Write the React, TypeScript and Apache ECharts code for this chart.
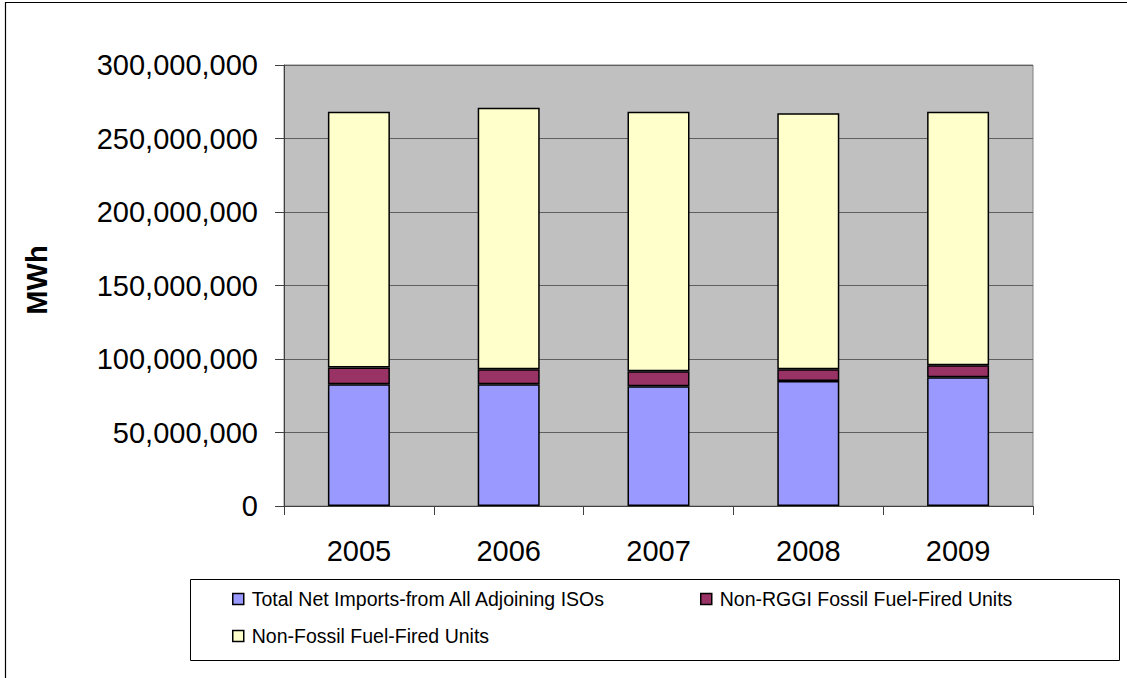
import React, { useEffect, useRef } from "react";
import * as echarts from "echarts";

// Annual electricity supply components, MWh
const years = ["2005", "2006", "2007", "2008", "2009"];
const netImports = [82800000, 82800000, 81500000, 85100000, 87600000];
const nonRggiFossil = [11400000, 10300000, 10200000, 8000000, 8200000];
const nonFossil = [174000000, 177800000, 176500000, 174000000, 172400000];

const seriesNames = [
  "Total Net Imports-from All Adjoining ISOs",
  "Non-RGGI Fossil Fuel-Fired Units",
  "Non-Fossil Fuel-Fired Units",
];
const seriesColors = ["#9999FF", "#993366", "#FFFFCC"];

const FONT = "'Liberation Sans', Arial, sans-serif";

const withCommas = (v: number) =>
  String(Math.round(v)).replace(/\B(?=(\d{3})+(?!\d))/g, ",");

export default function App() {
  const ref = useRef<HTMLDivElement>(null);

  useEffect(() => {
    if (!ref.current) return;
    const chart = echarts.init(ref.current, null, { renderer: "svg" });

    const barSeries = [netImports, nonRggiFossil, nonFossil].map((data, i) => ({
      name: seriesNames[i],
      type: "bar" as const,
      stack: "total",
      data,
      barWidth: 62,
      itemStyle: {
        color: seriesColors[i],
        borderColor: "#000000",
        borderWidth: 1.5,
      },
    }));

    const legendBase = {
      orient: "horizontal" as const,
      icon: "rect",
      itemWidth: 11,
      itemHeight: 11,
      itemGap: 0,
      padding: 0,
      itemStyle: { borderColor: "#000000", borderWidth: 1.5 },
      textStyle: {
        fontFamily: FONT,
        fontSize: 19.5,
        color: "#000000",
        padding: [0, 0, 0, 3],
      },
    };

    chart.setOption({
      animation: false,
      backgroundColor: "#ffffff",
      textStyle: { fontFamily: FONT },
      grid: {
        left: 284,
        top: 65,
        right: 94,
        bottom: 172,
        show: true,
        backgroundColor: "#C0C0C0",
        borderColor: "#808080",
        borderWidth: 1,
        containLabel: false,
      },
      xAxis: {
        type: "category",
        data: years,
        axisLine: { show: true, lineStyle: { color: "#404040", width: 1 } },
        axisTick: {
          show: true,
          inside: false,
          length: 9,
          lineStyle: { color: "#404040" },
        },
        axisLabel: {
          fontFamily: FONT,
          fontSize: 29,
          color: "#000000",
          margin: 30,
        },
      },
      yAxis: {
        type: "value",
        min: 0,
        max: 300000000,
        interval: 50000000,
        axisLine: { show: true, lineStyle: { color: "#404040", width: 1 } },
        axisTick: {
          show: true,
          inside: false,
          length: 9,
          lineStyle: { color: "#404040" },
        },
        splitLine: { show: true, lineStyle: { color: "#5f5f5f", width: 1 } },
        axisLabel: {
          fontFamily: FONT,
          fontSize: 29,
          color: "#000000",
          margin: 26,
          formatter: (v: number) => withCommas(v),
        },
      },
      legend: [
        { ...legendBase, data: [seriesNames[0]], left: 232, top: 589 },
        { ...legendBase, data: [seriesNames[1]], left: 700, top: 589 },
        { ...legendBase, data: [seriesNames[2]], left: 232, top: 626 },
      ],
      graphic: [
        // outer frame: top and left edges only
        {
          type: "polyline",
          shape: { points: [[5.5, 678], [5.5, 2.5], [1127, 2.5]] },
          style: { fill: "none", stroke: "#000000", lineWidth: 1.2 },
          silent: true,
        },
        {
          type: "rect",
          shape: { x: 190.5, y: 579.5, width: 929, height: 81 },
          style: { fill: "none", stroke: "#000000", lineWidth: 1 },
          silent: true,
        },
        {
          type: "text",
          x: 37,
          y: 280,
          rotation: Math.PI / 2,
          style: {
            text: "MWh",
            fontFamily: FONT,
            fontSize: 29,
            fontWeight: "bold",
            fill: "#000000",
            align: "center",
            verticalAlign: "middle",
          },
          silent: true,
        },
      ],
      series: barSeries,
    });

    return () => chart.dispose();
  }, []);

  return (
    <div
      ref={ref}
      style={{ position: "fixed", left: 0, top: 0, width: 1127, height: 678 }}
    />
  );
}
